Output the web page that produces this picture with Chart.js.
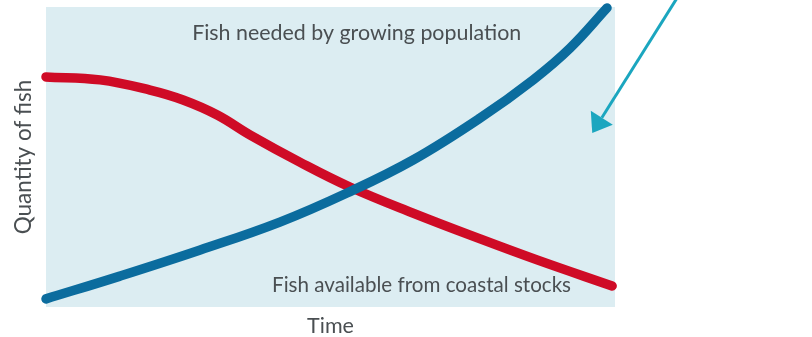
<!DOCTYPE html>
<html>
<head>
<meta charset="utf-8">
<title>Fish supply and demand</title>
<script src="https://cdn.jsdelivr.net/npm/chart.js@4/dist/chart.umd.min.js"></script>
<style>
  html, body { margin: 0; padding: 0; background: #ffffff; }
  #wrap { width: 812px; height: 337px; }
</style>
</head>
<body>
<div id="wrap"><canvas id="fishChart" width="812" height="337"></canvas></div>
<script>
// Demand curve: fish needed by a growing population (time, quantity)
const demandTime = [0, 13.0, 27.1, 41.1, 52.9, 64.5, 76.3, 85.6, 92.1, 98.6];
const demandQty  = [2.7, 10.3, 19.0, 28.3, 38.0, 49.0, 63.0, 75.7, 86.3, 99.7];

// Supply curve: fish available from coastal stocks
const supplyTime = [0, 9.5, 18.3, 24.1, 30.1, 35.9, 44.6, 53.4, 64.5, 76.3, 86.3, 99.5];
const supplyQty  = [76.7, 75.7, 72.3, 69.0, 64.0, 57.3, 48.3, 40.0, 31.3, 22.7, 15.7, 7.0];

const demandLabel = 'Fish needed by growing population';
const supplyLabel = 'Fish available from coastal stocks';
const xTitle = 'Time';
const yTitle = 'Quantity of fish';

// where the curve labels sit, in chart units [time, quantity]
const demandLabelAt = [54.6, 89.0];
const supplyLabelAt = [66.0, 5.0];
// pointer arrow, tail and tip in chart units
const arrowFrom = [112.0, 106.3];
const arrowTo   = [96.0, 58.0];

const textColor = '#4a4f52';
const fontFam = 'Lato, "Open Sans", sans-serif';

function toPoints(xs, ys) {
    return xs.map((x, i) => ({ x: x, y: ys[i] }));
}

// fills the plotting area in light blue
const plotBackground = {
    id: 'plotBackground',
    beforeDraw(chart) {
        const { ctx, chartArea } = chart;
        ctx.save();
        ctx.fillStyle = '#dcedf2';
        ctx.fillRect(chartArea.left, chartArea.top, chartArea.right - chartArea.left, chartArea.bottom - chartArea.top);
        ctx.restore();
    }
};

// curve labels and the teal arrow
const annotations = {
    id: 'annotations',
    afterDatasetsDraw(chart) {
        const { ctx, scales } = chart;
        const px = v => scales.x.getPixelForValue(v);
        const py = v => scales.y.getPixelForValue(v);

        ctx.save();
        ctx.fillStyle = textColor;
        ctx.textAlign = 'center';
        ctx.textBaseline = 'alphabetic';
        ctx.font = '21.4px ' + fontFam;
        ctx.fillText(demandLabel, px(demandLabelAt[0]), py(demandLabelAt[1]));
        ctx.font = '20.6px ' + fontFam;
        ctx.fillText(supplyLabel, px(supplyLabelAt[0]), py(supplyLabelAt[1]));

        const x1 = px(arrowFrom[0]), y1 = py(arrowFrom[1]);
        const x2 = px(arrowTo[0]), y2 = py(arrowTo[1]);
        const ang = Math.atan2(y2 - y1, x2 - x1);
        const headLen = 18, headHalf = 13;
        const bx = x2 - headLen * Math.cos(ang), by = y2 - headLen * Math.sin(ang);

        ctx.strokeStyle = '#1ba6bf';
        ctx.fillStyle = '#1ba6bf';
        ctx.lineWidth = 3;
        ctx.beginPath();
        ctx.moveTo(x1, y1);
        ctx.lineTo(bx, by);
        ctx.stroke();

        ctx.beginPath();
        ctx.moveTo(x2, y2);
        ctx.lineTo(bx + headHalf * Math.sin(ang), by - headHalf * Math.cos(ang));
        ctx.lineTo(bx - headHalf * Math.sin(ang), by + headHalf * Math.cos(ang));
        ctx.closePath();
        ctx.fill();
        ctx.restore();
    }
};

const ctx = document.getElementById('fishChart').getContext('2d');
new Chart(ctx, {
    type: 'line',
    data: {
        datasets: [
            {
                label: demandLabel,
                data: toPoints(demandTime, demandQty),
                borderColor: '#0b6c9e',
                borderWidth: 9.5,
                borderCapStyle: 'round',
                borderJoinStyle: 'round',
                tension: 0.4,
                pointRadius: 0,
                fill: false,
                clip: false
            },
            {
                label: supplyLabel,
                data: toPoints(supplyTime, supplyQty),
                borderColor: '#cf0b26',
                borderWidth: 9.5,
                borderCapStyle: 'round',
                borderJoinStyle: 'round',
                tension: 0.4,
                pointRadius: 0,
                fill: false,
                clip: false
            }
        ]
    },
    options: {
        responsive: false,
        animation: false,
        events: [],
        layout: {
            autoPadding: false,
            padding: { left: 0, top: 7, right: 197, bottom: 0 }
        },
        plugins: {
            legend: { display: false },
            tooltip: { enabled: false }
        },
        scales: {
            x: {
                type: 'linear',
                min: 0,
                max: 100,
                ticks: { display: false },
                grid: { display: false, drawTicks: false },
                border: { display: false },
                title: {
                    display: true,
                    text: xTitle,
                    color: textColor,
                    font: { family: fontFam, size: 21.5 },
                    padding: { top: 6, bottom: -1.8 }
                }
            },
            y: {
                type: 'linear',
                min: 0,
                max: 100,
                ticks: { display: false },
                grid: { display: false, drawTicks: false },
                border: { display: false },
                title: {
                    display: true,
                    text: yTitle,
                    color: textColor,
                    font: { family: fontFam, size: 22.5 },
                    padding: { top: 10.5, bottom: 8.5 }
                }
            }
        }
    },
    plugins: [plotBackground, annotations]
});
</script>
</body>
</html>
